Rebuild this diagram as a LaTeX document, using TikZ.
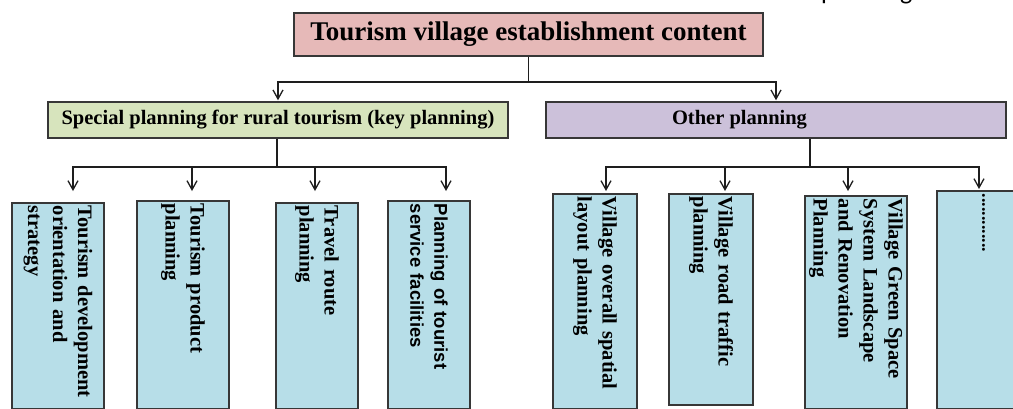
\documentclass[tikz,border=0pt]{standalone}
\usepackage{fontspec}
\setmainfont{Liberation Serif}
\setsansfont{Liberation Sans}
\newfontfamily\capfont{Carlito}
\usetikzlibrary{arrows.meta}

\definecolor{headpink}{RGB}{230,185,184}
\definecolor{keygreen}{RGB}{215,228,189}
\definecolor{otherpurple}{RGB}{204,193,218}
\definecolor{leafblue}{RGB}{183,222,232}
\definecolor{boxline}{RGB}{55,55,55}
\definecolor{lineclr}{RGB}{30,30,30}

\tikzset{
    box/.style={draw=boxline, line width=1.5pt, inner sep=0pt},
    headbox/.style={box, fill=headpink, minimum width=469pt, minimum height=43pt,
        font=\fontsize{27}{32}\selectfont\bfseries},
    midbox/.style={box, minimum width=460pt, minimum height=36pt,
        font=\fontsize{20.5}{25}\selectfont\bfseries},
    leaf/.style={box, fill=leafblue, rotate=-90, anchor=west, align=left,
        inner xsep=3pt, font=\fontsize{20.5}{25}\selectfont\bfseries},
    conn/.style={draw=lineclr, line width=1.3pt},
    arr/.style={conn, -{Straight Barb[length=9pt,width=10pt]}, shorten >=1pt},
}

\begin{document}
\begin{tikzpicture}[x=1pt,y=-1pt]
    \useasboundingbox (0,0) rectangle (1013,408);

    % cut-off caption at the top right
    \node[anchor=base west, inner sep=0pt, font=\capfont\fontsize{26}{30}\selectfont]
        (cap) at (821,-1) {planning of rese};

    \node[headbox] (T) at (528.5,34.5) {Tourism village establishment content};

    \node[midbox, fill=keygreen] (G) at (278,120)
        {Special planning for rural tourism (key planning)};
    \node[midbox, fill=otherpurple] (P) at (776,120)
        {\makebox[460pt][l]{\hspace{126pt}Other planning}};

    % leaves of the key planning
    \node[leaf, text width=199.5pt, minimum height=92pt] (b1) at (58,202)
        {Tourism development\\orientation and\\strategy};
    \node[leaf, text width=201.5pt, minimum height=92pt] (b2) at (183,200)
        {Tourism product\\planning};
    \node[leaf, text width=199.5pt, minimum height=82pt] (b3) at (317,202)
        {Travel route\\planning};
    \node[leaf, text width=201.5pt, minimum height=82pt,
        font=\fontsize{18.5}{24}\selectfont\sffamily\bfseries] (b4) at (429,200)
        {Planning of tourist\\service facilities};

    % leaves of the other planning
    \node[leaf, text width=208.5pt, minimum height=84pt] (b5) at (595,193)
        {Village overall spatial\\layout planning};
    \node[leaf, text width=205pt, minimum height=84pt] (b6) at (711,193)
        {Village road traffic\\planning};
    \node[leaf, text width=206.5pt, minimum height=102pt] (b7) at (856,195)
        {Village Green Space\\System Landscape\\and Renovation\\Planning};
    \node[leaf, text width=211.5pt, minimum height=93pt,
        font=\fontsize{18}{22}\selectfont\bfseries] (b8) at (983.5,190)
        {.............};

    % connectors
    \coordinate (j0) at (528.5,82);
    \coordinate (j1) at (277,167);
    \coordinate (j2) at (810,167);
    \coordinate (a1) at (73,192);
    \coordinate (a2) at (192,192);
    \coordinate (a3) at (315,192);
    \coordinate (a4) at (446,192);
    \coordinate (a5) at (606,192);
    \coordinate (a6) at (725,192);
    \coordinate (a7) at (848,192);
    \coordinate (a8) at (979,190);

    \draw[conn] (T.south) -- (j0);
    \draw[arr] (j0) -| (G.north);
    \draw[arr] (j0) -| (P.north);

    \draw[conn] (G.south -| j1) -- (j1);
    \foreach \t in {a1,a2,a3,a4}
        \draw[arr] (j1) -| (\t);

    \draw[conn] (P.south -| j2) -- (j2);
    \foreach \t in {a5,a6,a7,a8}
        \draw[arr] (j2) -| (\t);
\end{tikzpicture}
\end{document}
